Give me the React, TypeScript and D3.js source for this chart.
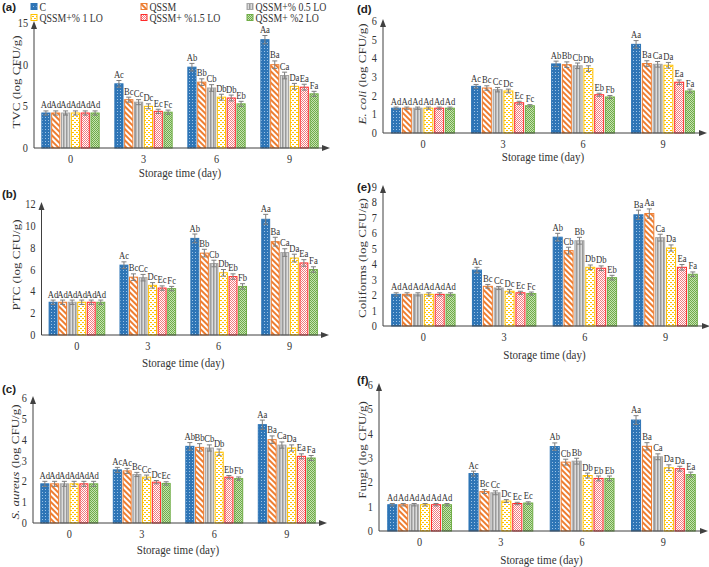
import React from 'react';
import * as d3 from 'd3';

const days = ['0', '3', '6', '9'];
const seriesNames = ['C', 'QSSM', 'QSSM+% 0.5 LO', 'QSSM+% 1 LO', 'QSSM+ %1.5 LO', 'QSSM+ %2 LO'];

// values[dayIndex][seriesIndex]
const tvcValues = [
  [4.2, 4.2, 4.2, 4.2, 4.2, 4.2],
  [7.7, 5.8, 5.5, 5.0, 4.4, 4.3],
  [9.7, 7.9, 7.2, 6.1, 6.0, 5.3],
  [13.0, 10.0, 8.7, 7.4, 7.3, 6.5],
];
const tvcErrors = [
  [0.25, 0.25, 0.25, 0.25, 0.25, 0.25],
  [0.4, 0.3, 0.3, 0.3, 0.25, 0.25],
  [0.45, 0.4, 0.4, 0.35, 0.35, 0.3],
  [0.5, 0.45, 0.4, 0.35, 0.35, 0.3],
];
const tvcLetters = [
  ['Ad', 'Ad', 'Ad', 'Ad', 'Ad', 'Ad'],
  ['Ac', 'Bc', 'Cc', 'Dc', 'Ec', 'Fc'],
  ['Ab', 'Bb', 'Cb', 'Db', 'Db', 'Eb'],
  ['Aa', 'Ba', 'Ca', 'Da', 'Ea', 'Fa'],
];

const ptcValues = [
  [3.0, 3.0, 3.0, 3.0, 3.0, 3.0],
  [6.4, 5.3, 5.25, 4.55, 4.3, 4.25],
  [8.85, 7.5, 6.55, 5.7, 5.35, 4.45],
  [10.6, 8.55, 7.55, 7.05, 6.6, 6.0],
];
const ptcErrors = [
  [0.2, 0.2, 0.2, 0.2, 0.2, 0.2],
  [0.3, 0.3, 0.3, 0.25, 0.2, 0.2],
  [0.4, 0.35, 0.3, 0.3, 0.25, 0.25],
  [0.45, 0.4, 0.35, 0.35, 0.3, 0.25],
];
const ptcLetters = [
  ['Ad', 'Ad', 'Ad', 'Ad', 'Ad', 'Ad'],
  ['Ac', 'Bc', 'Cc', 'Dc', 'Ec', 'Fc'],
  ['Ab', 'Bb', 'Cb', 'Db', 'Eb', 'Fb'],
  ['Aa', 'Ba', 'Ca', 'Da', 'Ea', 'Fa'],
];

const saValues = [
  [1.88, 1.88, 1.88, 1.88, 1.88, 1.88],
  [2.55, 2.5, 2.33, 2.2, 1.96, 1.9],
  [3.68, 3.63, 3.6, 3.4, 2.2, 2.13],
  [4.72, 4.0, 3.74, 3.6, 3.2, 3.12],
];
const saErrors = [
  [0.12, 0.12, 0.12, 0.12, 0.12, 0.12],
  [0.12, 0.12, 0.1, 0.1, 0.08, 0.08],
  [0.18, 0.18, 0.15, 0.15, 0.08, 0.08],
  [0.22, 0.18, 0.15, 0.15, 0.12, 0.12],
];
const saLetters = [
  ['Ad', 'Ad', 'Ad', 'Ad', 'Ad', 'Ad'],
  ['Ac', 'Ac', 'Bc', 'Cc', 'Dc', 'Ec'],
  ['Ab', 'Bb', 'Cb', 'Db', 'Eb', 'Fb'],
  ['Aa', 'Ba', 'Ca', 'Da', 'Ea', 'Fa'],
];

const ecValues = [
  [1.33, 1.33, 1.33, 1.33, 1.33, 1.33],
  [2.5, 2.41, 2.32, 2.25, 1.62, 1.46],
  [3.7, 3.66, 3.6, 3.45, 2.05, 1.93],
  [4.75, 3.72, 3.68, 3.63, 2.72, 2.25],
];
const ecErrors = [
  [0.06, 0.06, 0.06, 0.06, 0.06, 0.06],
  [0.1, 0.12, 0.12, 0.1, 0.08, 0.06],
  [0.15, 0.15, 0.15, 0.15, 0.08, 0.08],
  [0.2, 0.15, 0.15, 0.15, 0.12, 0.1],
];
const ecLetters = [
  ['Ad', 'Ad', 'Ad', 'Ad', 'Ad', 'Ad'],
  ['Ac', 'Bc', 'Cc', 'Dc', 'Ec', 'Fc'],
  ['Ab', 'Bb', 'Cb', 'Db', 'Eb', 'Fb'],
  ['Aa', 'Ba', 'Ca', 'Da', 'Ea', 'Fa'],
];

const colValues = [
  [2.05, 2.05, 2.05, 2.05, 2.05, 2.05],
  [3.62, 2.57, 2.46, 2.25, 2.15, 2.1],
  [5.75, 4.88, 5.52, 3.8, 3.74, 3.13],
  [7.2, 7.28, 5.72, 5.05, 3.8, 3.35],
];
const colErrors = [
  [0.1, 0.1, 0.1, 0.1, 0.1, 0.1],
  [0.18, 0.12, 0.1, 0.12, 0.1, 0.1],
  [0.25, 0.22, 0.22, 0.15, 0.15, 0.15],
  [0.3, 0.3, 0.22, 0.2, 0.18, 0.15],
];
const colLetters = [
  ['Ad', 'Ad', 'Ad', 'Ad', 'Ad', 'Ad'],
  ['Ac', 'Bc', 'Cc', 'Dc', 'Ec', 'Fc'],
  ['Ab', 'Cb', 'Bb', 'Db', 'Db', 'Eb'],
  ['Ba', 'Aa', 'Ca', 'Da', 'Ea', 'Fa'],
];

const fungiValues = [
  [1.08, 1.08, 1.08, 1.08, 1.08, 1.08],
  [2.36, 1.62, 1.57, 1.23, 1.13, 1.15],
  [3.47, 2.83, 2.87, 2.28, 2.16, 2.16],
  [4.56, 3.48, 3.05, 2.6, 2.56, 2.32],
];
const fungiErrors = [
  [0.05, 0.05, 0.05, 0.05, 0.05, 0.05],
  [0.1, 0.08, 0.08, 0.06, 0.05, 0.05],
  [0.15, 0.12, 0.12, 0.1, 0.1, 0.1],
  [0.18, 0.15, 0.12, 0.12, 0.1, 0.1],
];
const fungiLetters = [
  ['Ad', 'Ad', 'Ad', 'Ad', 'Ad', 'Ad'],
  ['Ac', 'Bc', 'Cc', 'Dc', 'Ec', 'Ec'],
  ['Ab', 'Cb', 'Bb', 'Db', 'Eb', 'Eb'],
  ['Aa', 'Ba', 'Ca', 'Da', 'Da', 'Ea'],
];

const strokeColors = ['#2e75b6', '#ed7d31', '#a5a5a5', '#ffc000', '#ff2a2a', '#70ad47'];
const patternIds = ['pC', 'pQ', 'pG', 'pY', 'pR', 'pGr'];

const SX = 0.82;
const SERIF = '"Liberation Serif", "Times New Roman", serif';
const SANS = '"Liberation Sans", Arial, sans-serif';
const INK = '#333';

type TitlePart = { t: string; italic?: boolean };
type Panel = {
  label: string; lx: number; ly: number;
  title: TitlePart[]; titleX: number; titleY: number;
  values: number[][]; errors: number[][]; letters: string[][];
  yMax: number; yStep: number;
  x0: number; x1: number; y0: number; yTop: number; xTitleY: number;
};

const panels: Panel[] = [
  { label: '(a)', lx: 2, ly: 11, title: [{ t: 'TVC (log CFU/g)' }], titleX: 15, titleY: 82, values: tvcValues, errors: tvcErrors, letters: tvcLetters, yMax: 15, yStep: 5, x0: 34, x1: 326, y0: 148, yTop: 23, xTitleY: 177 },
  { label: '(b)', lx: 2, ly: 198, title: [{ t: 'PTC (log CFU/g)' }], titleX: 15, titleY: 265, values: ptcValues, errors: ptcErrors, letters: ptcLetters, yMax: 12, yStep: 2, x0: 41.5, x1: 325, y0: 335, yTop: 204, xTitleY: 367 },
  { label: '(c)', lx: 2, ly: 393, title: [{ t: 'S. aureus', italic: true }, { t: ' (log CFU/g)' }], titleX: 14, titleY: 462, values: saValues, errors: saErrors, letters: saLetters, yMax: 6, yStep: 1, x0: 33, x1: 323, y0: 523, yTop: 398, xTitleY: 554 },
  { label: '(d)', lx: 357, ly: 13, title: [{ t: 'E. coli', italic: true }, { t: ' (log CFU/g)' }], titleX: 361, titleY: 74, values: ecValues, errors: ecErrors, letters: ecLetters, yMax: 6, yStep: 1, x0: 383, x1: 703, y0: 133, yTop: 21, xTitleY: 161 },
  { label: '(e)', lx: 357, ly: 191, title: [{ t: 'Coliforms (log CFU/g)' }], titleX: 361, titleY: 258, values: colValues, errors: colErrors, letters: colLetters, yMax: 9, yStep: 1, x0: 383, x1: 706, y0: 326, yTop: 187, xTitleY: 359 },
  { label: '(f)', lx: 357, ly: 384, title: [{ t: 'Fungi (log CFU/g)' }], titleX: 361, titleY: 450, values: fungiValues, errors: fungiErrors, letters: fungiLetters, yMax: 6, yStep: 1, x0: 379, x1: 704, y0: 531, yTop: 385, xTitleY: 564 },
];

function HText(props: { x: number; y: number; size: number; anchor?: string; children: React.ReactNode; family?: string; weight?: string; fill?: string }) {
  const { x, y, size, anchor = 'middle', children, family = SERIF, weight = 'normal', fill = INK } = props;
  return (
    <text transform={`translate(${x},${y}) scale(${SX},1)`} fontSize={size} textAnchor={anchor}
      fontFamily={family} fontWeight={weight} fill={fill}>{children}</text>
  );
}

function PanelChart({ p }: { p: Panel }) {
  const xOuter = d3.scaleBand<string>().domain(days).range([p.x0, p.x1]).paddingInner(0.215).paddingOuter(0.1075);
  const xInner = d3.scaleBand<number>().domain(d3.range(seriesNames.length)).range([0, xOuter.bandwidth()]).paddingInner(0.17);
  const y = d3.scaleLinear().domain([0, p.yMax]).range([p.y0, p.yTop]);
  const ticks = d3.range(0, p.yMax + 1e-9, p.yStep);
  const bw = xInner.bandwidth();
  return (
    <g>
      {days.map((d, di) => (
        <g key={d}>
          {p.values[di].map((v, si) => {
            const bx = (xOuter(d) as number) + (xInner(si) as number);
            return (
              <rect key={si} x={bx} y={y(v)} width={bw} height={p.y0 - y(v)}
                fill={`url(#${patternIds[si]})`} stroke={strokeColors[si]} strokeWidth={1} />
            );
          })}
        </g>
      ))}
      {days.map((d, di) => (
        <g key={'e' + d}>
          {p.values[di].map((v, si) => {
            const cx = (xOuter(d) as number) + (xInner(si) as number) + bw / 2;
            const e = p.errors[di][si];
            const yt = y(v + e), yb = y(v - e);
            return (
              <g key={si} stroke="#7f7f7f" strokeWidth={1}>
                <line x1={cx} x2={cx} y1={yt} y2={yb} />
                <line x1={cx - 2.5} x2={cx + 2.5} y1={yt} y2={yt} />
                <line x1={cx - 2.5} x2={cx + 2.5} y1={yb} y2={yb} />
              </g>
            );
          })}
        </g>
      ))}
      {days.map((d, di) => (
        <g key={'l' + d}>
          {p.letters[di].map((t, si) => {
            const cx = (xOuter(d) as number) + (xInner(si) as number) + bw / 2;
            const yt = y(p.values[di][si] + p.errors[di][si]);
            return <HText key={si} x={cx} y={yt - 2.5} size={10.5}>{t}</HText>;
          })}
        </g>
      ))}
      <line x1={p.x0} x2={p.x0} y1={p.y0} y2={p.yTop + 4} stroke="#404040" strokeWidth={1} />
      <path d={`M${p.x0},${p.yTop - 2} L${p.x0 - 3},${p.yTop + 6} L${p.x0 + 3},${p.yTop + 6} Z`} fill="#404040" />
      <line x1={p.x0} x2={p.x1} y1={p.y0} y2={p.y0} stroke="#404040" strokeWidth={1} />
      <path d={`M${p.x1 + 4},${p.y0} L${p.x1 - 4},${p.y0 - 3} L${p.x1 - 4},${p.y0 + 3} Z`} fill="#404040" />
      {ticks.map(t => (
        <HText key={t} x={p.x0 - 6} y={y(t) + 4} size={12.5} anchor="end">{String(t)}</HText>
      ))}
      {days.map(d => (
        <HText key={'x' + d} x={(xOuter(d) as number) + xOuter.bandwidth() / 2} y={p.y0 + 15} size={12.5}>{d}</HText>
      ))}
      <HText x={(p.x0 + p.x1) / 2} y={p.xTitleY} size={13.5}>Storage time (day)</HText>
      <text transform={`translate(${p.titleX + 4.5},${p.titleY}) rotate(-90) scale(1,${SX})`} fontSize={13}
        textAnchor="middle" fontFamily={SERIF} fill={INK}>
        {p.title.map((tp, i) => (
          <tspan key={i} fontStyle={tp.italic ? 'italic' : 'normal'}>{tp.t}</tspan>
        ))}
      </text>
      <text x={p.lx} y={p.ly} fontSize={11.5} fontWeight="bold" fontFamily={SANS} fill="#222">{p.label}</text>
    </g>
  );
}

const legendCols = [31, 141, 247];
const legendRows = [6.5, 17.5];

export default function App() {
  return (
    <svg width={709} height={567} style={{ position: 'absolute', left: 0, top: 0, background: '#fff' }}>
      <defs>
        <pattern id="pC" width={3} height={3} patternUnits="userSpaceOnUse">
          <rect width={3} height={3} fill="#2e75b6" />
          <rect x={0} y={0} width={1} height={1} fill="#9dc3e6" />
        </pattern>
        <pattern id="pQ" width={4} height={4} patternUnits="userSpaceOnUse" patternTransform="rotate(-45)">
          <rect width={4} height={4} fill="#fff" />
          <rect width={2} height={4} fill="#ed7d31" />
        </pattern>
        <pattern id="pG" width={3} height={3} patternUnits="userSpaceOnUse">
          <rect width={3} height={3} fill="#dcdcdc" />
          <rect width={1.5} height={3} fill="#9a9a9a" />
        </pattern>
        <pattern id="pY" width={4} height={4} patternUnits="userSpaceOnUse">
          <rect width={4} height={4} fill="#fff" />
          <rect x={0} y={0} width={2} height={1} fill="#ffc000" />
          <rect x={2} y={2} width={2} height={1} fill="#ffc000" />
        </pattern>
        <pattern id="pR" width={2} height={2} patternUnits="userSpaceOnUse">
          <rect width={2} height={2} fill="#fff" />
          <rect x={0} y={0} width={1} height={1} fill="#f07a80" />
          <rect x={1} y={1} width={1} height={1} fill="#f07a80" />
        </pattern>
        <pattern id="pGr" width={2} height={2} patternUnits="userSpaceOnUse">
          <rect width={2} height={2} fill="#c5e0b4" />
          <rect x={0} y={0} width={1} height={1} fill="#70ad47" />
          <rect x={1} y={1} width={1} height={1} fill="#70ad47" />
        </pattern>
      </defs>
      {seriesNames.map((name, i) => {
        const col = i % 3;
        const row = Math.floor(i / 3);
        const bx = legendCols[col];
        const by = legendRows[row];
        return (
          <g key={name}>
            <rect x={bx} y={by - 3} width={6} height={6} fill={`url(#${patternIds[i]})`} stroke={strokeColors[i]} strokeWidth={1} />
            <HText x={bx + 8.5} y={by + 4} size={12} anchor="start">{name}</HText>
          </g>
        );
      })}
      {panels.map(p => <PanelChart key={p.label} p={p} />)}
    </svg>
  );
}
